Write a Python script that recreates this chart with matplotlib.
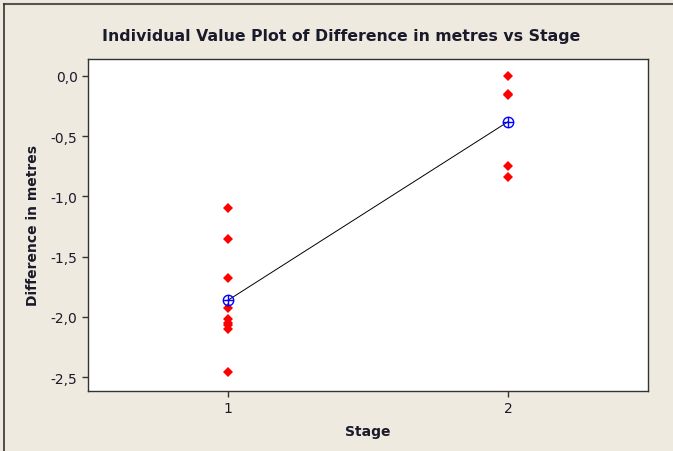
import numpy as np
import matplotlib.pyplot as plt
from matplotlib.lines import Line2D
from matplotlib.ticker import FuncFormatter

# Data
stage1 = [-1.10, -1.35, -1.68, -1.93, -2.02, -2.05, -2.07, -2.10, -2.46]
stage2 = [0.00, -0.15, -0.16, -0.75, -0.84]
stages = [1, 2]
yticks = [0.0, -0.5, -1.0, -1.5, -2.0, -2.5]

means = [np.mean(stage1), np.mean(stage2)]
txt = '#1a1a2a'

fig = plt.figure(figsize=(6.73, 4.52), dpi=100)
fig.patch.set_facecolor('#EEEAE0')
ax = fig.add_axes([88 / 673, 1 - 392 / 452, 560 / 673, 332 / 452])
ax.set_facecolor('white')

# individual values
ax.plot([1] * len(stage1), stage1, 'D', color='red', markersize=5.2, markeredgewidth=0, zorder=3)
ax.plot([2] * len(stage2), stage2, 'D', color='red', markersize=5.2, markeredgewidth=0, zorder=3)

# mean connect line and symbols
ax.plot(stages, means, color='black', linewidth=0.7, zorder=2)
ax.plot(stages, means, 'o', markerfacecolor='none', markeredgecolor='blue', markersize=7.5, markeredgewidth=1, zorder=4)
ax.plot(stages, means, '+', color='blue', markersize=7.5, markeredgewidth=1, zorder=4)

ax.set_xlim(0.5, 2.5)
ax.set_ylim(-2.616, 0.141)
ax.set_xticks(stages)
ax.set_yticks(yticks)
ax.yaxis.set_major_formatter(FuncFormatter(lambda v, p: f'{v:.1f}'.replace('.', ',')))
ax.tick_params(direction='out', length=4, width=1, labelsize=10, labelcolor=txt, color='#333333')
for s in ax.spines.values():
    s.set_linewidth(1)
    s.set_color('#333333')

ax.set_xlabel('Stage', fontsize=10, fontweight='bold', labelpad=6, color=txt)
ax.set_ylabel('Difference in metres', fontsize=10, fontweight='bold', labelpad=8, color=txt)
fig.text(341 / 673, 1 - 37 / 452, 'Individual Value Plot of Difference in metres vs Stage',
         ha='center', va='center', fontsize=11.3, fontweight='bold', color=txt)

# outer frame: only top and left edges are visible
fig.add_artist(Line2D([3.5 / 673, 1], [1 - 4.5 / 452, 1 - 4.5 / 452], transform=fig.transFigure,
                      color='#555555', linewidth=1.5))
fig.add_artist(Line2D([3.5 / 673, 3.5 / 673], [0, 1 - 4.5 / 452], transform=fig.transFigure,
                      color='#333333', linewidth=1.2))

fig.savefig('out.png', dpi=100, facecolor=fig.get_facecolor())
